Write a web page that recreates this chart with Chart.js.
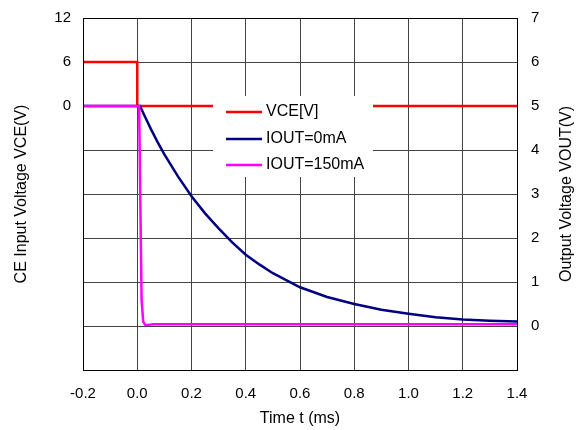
<!DOCTYPE html>
<html>
<head>
<meta charset="utf-8">
<script src="https://cdn.jsdelivr.net/npm/chart.js@4/dist/chart.umd.min.js"></script>
<style>
  html, body { margin: 0; padding: 0; background: #fff; }
  #wrap { width: 588px; height: 430px; position: relative; }
</style>
</head>
<body>
<div id="wrap"><canvas id="ceChart"></canvas></div>
<script>
// values
const xTicks = [-0.2, 0.0, 0.2, 0.4, 0.6, 0.8, 1.0, 1.2, 1.4];

const vceTime = [-0.2, 0.0, 0.0, 1.4];
const vceVolts = [6, 6, 0, 0];

const iout0Time = [-0.2, 0.01, 0.03, 0.05, 0.075, 0.1, 0.15, 0.2, 0.25, 0.3, 0.35, 0.4, 0.45, 0.5, 0.6, 0.7, 0.8, 0.9, 1.0, 1.1, 1.2, 1.3, 1.4];
const iout0Volts = [5, 5, 4.74, 4.48, 4.18, 3.9, 3.4, 2.95, 2.56, 2.22, 1.9, 1.62, 1.4, 1.2, 0.88, 0.66, 0.5, 0.37, 0.28, 0.2, 0.15, 0.12, 0.1];

const iout150Time = [-0.2, 0.007, 0.012, 0.016, 0.022, 0.03, 0.06, 1.4];
const iout150Volts = [5, 5, 2.5, 0.6, 0.1, 0.02, 0.04, 0.04];

const FONT = "'Liberation Sans', Arial, sans-serif";

function pts(xs, ys) {
  return xs.map((x, i) => ({ x: x, y: ys[i] }));
}

// white legend box inside the plot, plus frame and right-hand title
const overlay = {
  id: 'overlay',
  afterDatasetsDraw(chart) {
    const c = chart.ctx;
    const a = chart.chartArea;
    c.save();
    // frame
    c.strokeStyle = '#000';
    c.lineWidth = 1;
    c.strokeRect(Math.round(a.left) + 0.5, Math.round(a.top) + 0.5,
      Math.round(a.right - a.left), Math.round(a.bottom - a.top));

    // legend
    const bx = a.left + 130, by = a.top + 78;
    c.fillStyle = '#fff';
    c.fillRect(bx, by, 160, 81);
    c.font = '16px ' + FONT;
    c.textBaseline = 'middle';
    c.textAlign = 'left';
    const rowY = [16, 43, 69];
    chart.data.datasets.forEach((ds, i) => {
      const y = by + rowY[i];
      c.strokeStyle = ds.borderColor;
      c.lineWidth = 2.5;
      c.beginPath();
      c.moveTo(bx + 13, y);
      c.lineTo(bx + 49, y);
      c.stroke();
      c.fillStyle = '#000';
      c.fillText(ds.label, bx + 53, y);
    });

    // right axis title, reads bottom to top
    c.translate(567, (a.top + a.bottom) / 2);
    c.rotate(-Math.PI / 2);
    c.textAlign = 'center';
    c.font = '16px ' + FONT;
    c.fillText('Output Voltage VOUT(V)', 0, 0);
    c.restore();
  }
};

const ctx = document.getElementById('ceChart').getContext('2d');
const chart = new Chart(ctx, {
  type: 'line',
  data: {
    datasets: [
      {
        label: 'VCE[V]',
        data: pts(vceTime, vceVolts),
        yAxisID: 'y',
        borderColor: '#ff0000',
        borderWidth: 2.5,
        pointRadius: 0,
        order: 2
      },
      {
        label: 'IOUT=0mA',
        data: pts(iout0Time, iout0Volts),
        yAxisID: 'y2',
        borderColor: '#000080',
        borderWidth: 2.5,
        pointRadius: 0,
        tension: 0,
        order: 1
      },
      {
        label: 'IOUT=150mA',
        data: pts(iout150Time, iout150Volts),
        yAxisID: 'y2',
        borderColor: '#ff00ff',
        borderWidth: 2.5,
        pointRadius: 0,
        order: 0
      }
    ]
  },
  options: {
    responsive: true,
    maintainAspectRatio: false,
    animation: false,
    layout: { padding: { top: 18, left: 0, right: 0, bottom: 0 } },
    plugins: {
      legend: { display: false },
      tooltip: { enabled: false }
    },
    scales: {
      x: {
        type: 'linear',
        min: -0.2,
        max: 1.4,
        afterBuildTicks: function(scale) {
          scale.ticks = xTicks.map(v => ({ value: v }));
        },
        afterFit: function(scale) { scale.height = 60; },
        grid: { color: '#444', drawTicks: false },
        border: { display: false },
        ticks: {
          padding: 15,
          color: '#000',
          font: { family: FONT, size: 15 },
          callback: v => v.toFixed(1)
        },
        title: {
          display: true,
          text: 'Time t (ms)',
          color: '#000',
          font: { family: FONT, size: 16 },
          padding: { top: 0, bottom: 2 }
        }
      },
      y: {
        position: 'left',
        min: -36,
        max: 12,
        afterFit: function(scale) {
          scale.width = 83;
          scale.paddingTop = 0;
          scale.paddingBottom = 0;
        },
        grid: { color: '#444', drawTicks: false },
        border: { display: false },
        ticks: {
          stepSize: 6,
          padding: 12,
          color: '#000',
          font: { family: FONT, size: 15 },
          callback: v => (v >= 0 ? v : '')
        },
        title: {
          display: true,
          text: 'CE Input Voltage VCE(V)',
          color: '#000',
          font: { family: FONT, size: 16 },
          padding: { top: 12, bottom: 0 }
        }
      },
      y2: {
        position: 'right',
        min: -1,
        max: 7,
        afterFit: function(scale) {
          scale.width = 71;
          scale.paddingTop = 0;
          scale.paddingBottom = 0;
        },
        grid: { display: false, drawTicks: false },
        border: { display: false },
        ticks: {
          stepSize: 1,
          padding: 14,
          color: '#000',
          font: { family: FONT, size: 15 },
          callback: v => (v >= 0 ? v : '')
        }
      }
    }
  },
  plugins: [overlay]
});
</script>
</body>
</html>
